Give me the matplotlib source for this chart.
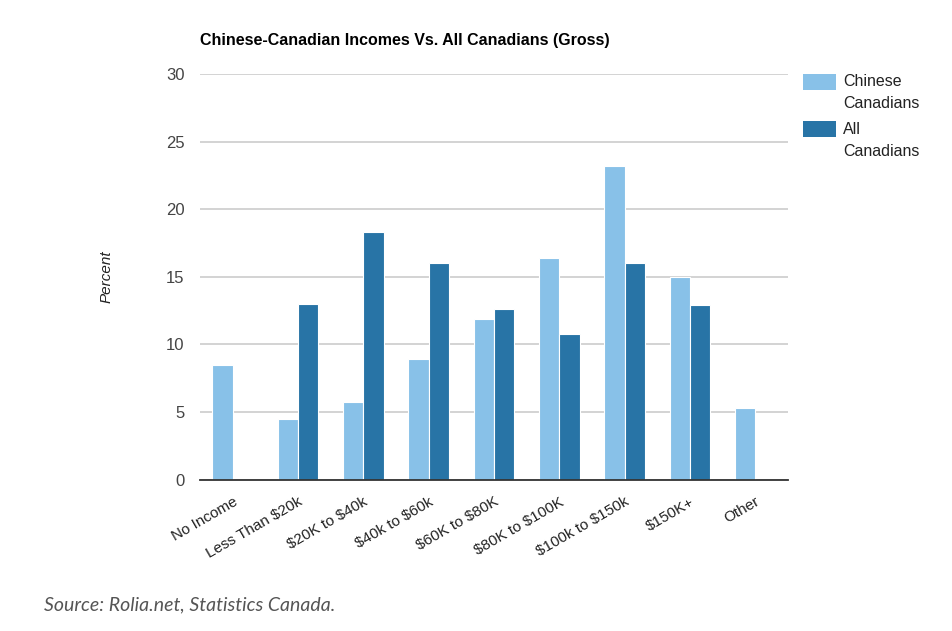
import numpy as np
import matplotlib.pyplot as plt
from matplotlib.patches import Rectangle

# Income brackets and percentages
categories = ["No Income", "Less Than $20k", "$20K to $40k", "$40k to $60k",
              "$60K to $80K", "$80K to $100K", "$100k to $150k", "$150K+", "Other"]
chinese_canadians = [8.5, 4.5, 5.7, 8.9, 11.9, 16.4, 23.2, 15.0, 5.3]
all_canadians = [0, 13.0, 18.3, 16.0, 12.6, 10.8, 16.0, 12.9, 0]
yticks = [0, 5, 10, 15, 20, 25, 30]

light = "#88c1e8"
dark = "#2874a6"

W, H = 953, 631
fig = plt.figure(figsize=(W / 100, H / 100), dpi=100)
ax = fig.add_axes([200 / W, 1 - 479.5 / H, 588 / W, 405.5 / H])

x = np.arange(len(categories))
bw = 0.31
ax.bar(x - bw / 2, chinese_canadians, bw, color=light, edgecolor="white", linewidth=0.8, zorder=3)
ax.bar(x + bw / 2, all_canadians, bw, color=dark, edgecolor="white", linewidth=0.8, zorder=3)

ax.set_xlim(-0.5, len(categories) - 0.5)
ax.set_ylim(0, 30)
ax.set_yticks(yticks)
ax.set_yticklabels([str(v) for v in yticks], fontsize=12, color="#444444", family="Liberation Sans")
ax.yaxis.grid(True, color="#cccccc", linewidth=1.2, zorder=0)
ax.tick_params(axis="y", length=0, pad=11)
ax.tick_params(axis="x", length=0, pad=11)
ax.set_xticks(x)
ax.set_xticklabels(categories, rotation=30, ha="right", rotation_mode="anchor",
                   fontsize=11, color="#222222", family="Liberation Sans", parse_math=False)
for s in ["top", "right", "left"]:
    ax.spines[s].set_visible(False)
ax.spines["bottom"].set_color("#333333")
ax.spines["bottom"].set_linewidth(1.3)
ax.spines["bottom"].set_zorder(4)

fig.text(200 / W, 1 - 40 / H, "Chinese-Canadian Incomes Vs. All Canadians (Gross)",
         fontsize=11.5, fontweight="bold", family="Liberation Sans", va="center", ha="left")
fig.text(107 / W, 1 - 277 / H, "Percent", rotation=90, fontsize=11, style="italic",
         family="Liberation Sans", va="center", ha="center", color="#222222")

# legend
for yy, col, lines in [(74, light, ["Chinese", "Canadians"]), (121, dark, ["All", "Canadians"])]:
    fig.patches.append(Rectangle((803 / W, 1 - (yy + 16) / H), 33 / W, 16 / H,
                                 transform=fig.transFigure, facecolor=col, edgecolor="none"))
    for i, t in enumerate(lines):
        fig.text(843 / W, 1 - (yy + 8 + i * 22) / H, t, fontsize=11.5, family="Liberation Sans",
                 color="#222222", va="center", ha="left")

fig.text(44 / W, 1 - 605 / H, "Source: Rolia.net, Statistics Canada.", fontsize=14,
         style="italic", family="Lato", color="#555555", va="center", ha="left")

fig.savefig("out.png", dpi=100)
